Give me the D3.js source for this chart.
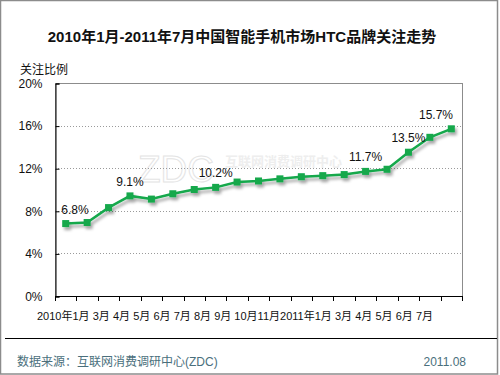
<!DOCTYPE html>
<html>
<head>
<meta charset="utf-8">
<script src="https://cdn.jsdelivr.net/npm/d3@7/dist/d3.min.js"></script>
<style>
  body { margin: 0; background: #fff; }
  svg { display: block; }
  text { font-family: "Liberation Sans", Arial, "Noto Sans CJK SC", sans-serif; }
</style>
</head>
<body>
<script>
// months 2010-01 .. 2011-07
var months = ["2010-01","2010-02","2010-03","2010-04","2010-05","2010-06","2010-07","2010-08","2010-09","2010-10","2010-11","2010-12",
              "2011-01","2011-02","2011-03","2011-04","2011-05","2011-06","2011-07"];
var share = [6.8, 6.9, 8.3, 9.4, 9.1, 9.6, 10.0, 10.2, 10.7, 10.8, 11.0, 11.2, 11.3, 11.4, 11.7, 11.9, 13.5, 14.9, 15.7];
var labelIdx = [0, 3, 7, 14, 16, 18];
var labelText = ["6.8%", "9.1%", "10.2%", "11.7%", "13.5%", "15.7%"];
var yTicks = [0, 4, 8, 12, 16, 20];
var xLabels = ["2010年1月","3月","4月","5月","6月","7月","8月","9月","10月","11月","2011年1月","3月","4月","5月","6月","7月"];

var W = 500, H = 375;
var plot = {left: 55, right: 462, top: 83, bottom: 296};
var green = "#13a84c";

var svg = d3.select("body").append("svg")
  .attr("width", W)
  .attr("height", H);

var defs = svg.append("defs");
var f = defs.append("filter").attr("id", "shadow")
  .attr("x", "-50%").attr("y", "-50%").attr("width", "200%").attr("height", "200%");
f.append("feDropShadow")
  .attr("dx", 2).attr("dy", 3)
  .attr("stdDeviation", 1.5)
  .attr("flood-color", "#000")
  .attr("flood-opacity", 0.35);

// frame
svg.append("rect")
  .attr("x", 0.5).attr("y", 0.5)
  .attr("width", 497).attr("height", 373.5)
  .attr("fill", "#fff")
  .attr("stroke", "#8c8c8c")
  .attr("stroke-width", 1.5);

// title
svg.append("text")
  .attr("x", 242).attr("y", 42)
  .attr("text-anchor", "middle")
  .style("font-size", "15px")
  .style("font-weight", "bold")
  .attr("fill", "#111")
  .text("2010年1月-2011年7月中国智能手机市场HTC品牌关注走势");

svg.append("text")
  .attr("x", 20).attr("y", 74)
  .style("font-size", "12px")
  .attr("fill", "#111")
  .text("关注比例");

var x = d3.scaleBand()
  .domain(months)
  .range([plot.left, plot.right])
  .paddingInner(0)
  .paddingOuter(0);

var y = d3.scaleLinear()
  .domain([0, 20])
  .range([plot.bottom, plot.top]);

// watermark
var wm = svg.append("g").attr("class", "watermark");
wm.append("text")
  .attr("x", 138).attr("y", 182)
  .style("font-size", "37px")
  .attr("fill", "none")
  .attr("stroke", "#e4e4e4")
  .attr("stroke-width", 1)
  .text("ZDC");
wm.append("text")
  .attr("x", 225).attr("y", 166)
  .style("font-size", "13px")
  .style("font-weight", "bold")
  .attr("fill", "#eeeeee")
  .text("互联网消费调研中心");

// plot border
svg.append("rect")
  .attr("x", plot.left + 0.5).attr("y", plot.top + 0.5)
  .attr("width", plot.right - plot.left).attr("height", plot.bottom - plot.top)
  .attr("fill", "none")
  .attr("stroke", "#8c8c8c");

// gridlines
svg.append("g")
  .selectAll("line")
  .data(yTicks.filter(function(d) { return d > 0 && d < 20; }))
  .enter().append("line")
    .attr("x1", plot.left)
    .attr("x2", plot.right)
    .attr("y1", function(d) { return Math.round(y(d)) + 0.5; })
    .attr("y2", function(d) { return Math.round(y(d)) + 0.5; })
    .attr("stroke", "#9a9a9a")
    .attr("stroke-dasharray", "1,2");

// y axis
var yAxis = svg.append("g")
  .attr("transform", "translate(" + (plot.left + 0.5) + ",0.5)")
  .call(d3.axisLeft(y).tickValues(yTicks).tickSize(-4).tickPadding(13)
    .tickFormat(function(d) { return d + "%"; }));
yAxis.select(".domain").attr("stroke", "#000");
yAxis.selectAll(".tick line").attr("stroke", "#000");
yAxis.selectAll(".tick text")
  .style("font-size", "12px")
  .style("font-family", "\"Liberation Sans\", Arial, sans-serif")
  .attr("fill", "#111");

// x axis: ticks between months
var bounds = months.map(function(m) { return x(m); }).concat([x.range()[1]]);
var xAxis = svg.append("g");
xAxis.append("line")
  .attr("x1", plot.left).attr("x2", plot.right + 1)
  .attr("y1", plot.bottom + 0.5).attr("y2", plot.bottom + 0.5)
  .attr("stroke", "#000");
xAxis.selectAll(".xt")
  .data(bounds)
  .enter().append("line")
    .attr("class", "xt")
    .attr("x1", function(d) { return Math.round(d) + 0.5; })
    .attr("x2", function(d) { return Math.round(d) + 0.5; })
    .attr("y1", plot.bottom)
    .attr("y2", plot.bottom + 5)
    .attr("stroke", "#000");

// month labels, flowed left to right across the row
var rowStart = 37, rowEnd = 433;
var lbl = svg.append("g")
  .selectAll("text")
  .data(xLabels)
  .enter().append("text")
    .attr("y", 320)
    .style("font-size", "11px")
    .attr("fill", "#111")
    .text(function(d) { return d; });
var widths = [];
lbl.each(function() { widths.push(this.getComputedTextLength()); });
// no gap inside "9月10月11月"
var gapMask = xLabels.map(function(d, i) { return (i === 8 || i === 9) ? 0 : 1; });
gapMask[xLabels.length - 1] = 0;
var gap = (rowEnd - rowStart - d3.sum(widths)) / d3.sum(gapMask);
var cur = rowStart;
lbl.attr("x", function(d, i) {
  var px = cur;
  cur += widths[i] + gap * gapMask[i];
  return px;
});

// line + markers
var line = d3.line()
  .x(function(d, i) { return x(months[i]) + x.bandwidth() / 2; })
  .y(function(d) { return y(d); });

var series = svg.append("g").attr("filter", "url(#shadow)");
series.append("path")
  .datum(share)
  .attr("d", line)
  .attr("fill", "none")
  .attr("stroke", green)
  .attr("stroke-width", 2.5);

series.selectAll("rect")
  .data(share)
  .enter().append("rect")
    .attr("x", function(d, i) { return x(months[i]) + x.bandwidth() / 2 - 3.5; })
    .attr("y", function(d) { return y(d) - 3.5; })
    .attr("width", 7)
    .attr("height", 7)
    .attr("fill", green);

// data labels
svg.append("g")
  .selectAll("text")
  .data(labelIdx)
  .enter().append("text")
    .attr("x", function(d) {
      var cx = x(months[d]) + x.bandwidth() / 2;
      return Math.max(plot.left + 20, Math.min(plot.right - 26, cx));
    })
    .attr("y", function(d) { return y(share[d]) - 10; })
    .attr("text-anchor", "middle")
    .style("font-size", "12px")
    .attr("fill", "#111")
    .text(function(d, i) { return labelText[i]; });

// footer
svg.append("line")
  .attr("x1", 5).attr("x2", 497)
  .attr("y1", 338.5).attr("y2", 338.5)
  .attr("stroke", "#000");

svg.append("text")
  .attr("x", 17).attr("y", 366)
  .style("font-size", "12px")
  .attr("fill", "#4a6f7c")
  .text("数据来源：互联网消费调研中心(ZDC)");

svg.append("text")
  .attr("x", 466).attr("y", 366)
  .attr("text-anchor", "end")
  .style("font-size", "12px")
  .attr("fill", "#4a6f7c")
  .text("2011.08");
</script>
</body>
</html>
